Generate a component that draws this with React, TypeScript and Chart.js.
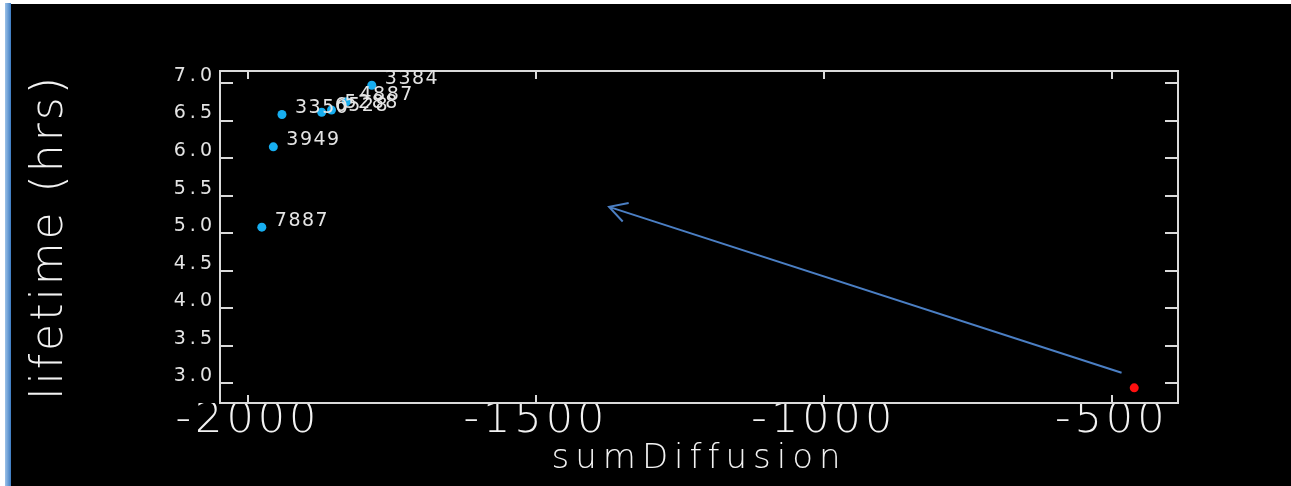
import React, { useEffect, useRef } from "react";
import { Chart, registerables } from "chart.js";

Chart.register(...registerables);

// ---- data ----
const sampleIds = ["3384", "4887", "5288", "6528", "3350", "3949", "7887"];
const sumDiffusion = [-1785, -1829, -1855, -1872, -1941, -1956, -1976];
const lifetimeHrs = [6.97, 6.75, 6.64, 6.61, 6.58, 6.15, 5.08];
const refSumDiffusion = [-461];
const refLifetime = [2.94];
const arrowFrom = [-483, 3.14];
const arrowTo = [-1373, 5.35];
const xRange = [-2048.6, -385];
const yRange = [2.738, 7.16];
const xTickValues = [-2000, -1500, -1000, -500];
const yTickValues = [3.0, 3.5, 4.0, 4.5, 5.0, 5.5, 6.0, 6.5, 7.0];
const xTitle = "sumDiffusion";
const yTitle = "lifetime (hrs)";

const FAMILY = "'DejaVu Sans', 'Liberation Sans', sans-serif";
const TEXT = "#f2f2f2";
const SMALL_TEXT = "#e4e4e4";
const FRAME = "#dadada";

const spacingPlugin = {
  id: "spacing",
  beforeDraw(chart: any) {
    const wrap = (scale: any, name: string, ls: string) => {
      if (!scale || scale["__w_" + name]) return;
      const orig = scale[name];
      scale[name] = function (...args: any[]) {
        const ctx = this.ctx;
        ctx.save();
        (ctx as any).letterSpacing = ls;
        orig.apply(this, args);
        ctx.restore();
      };
      scale["__w_" + name] = true;
    };
    wrap(chart.scales.x, "drawLabels", "4px");
    wrap(chart.scales.x, "drawTitle", "6px");
    wrap(chart.scales.y, "drawLabels", "4px");
    wrap(chart.scales.y, "drawTitle", "3px");
  },
};

const framePlugin = {
  id: "frame",
  beforeDatasetsDraw(chart: any) {
    const { ctx, chartArea: a, scales } = chart;
    ctx.save();
    ctx.strokeStyle = FRAME;
    ctx.lineWidth = 2;
    ctx.strokeRect(a.left, a.top, a.right - a.left, a.bottom - a.top);
    ctx.beginPath();
    scales.y.ticks.forEach((t: any) => {
      const py = Math.round(scales.y.getPixelForValue(t.value));
      ctx.moveTo(a.left, py);
      ctx.lineTo(a.left + 13, py);
      ctx.moveTo(a.right, py);
      ctx.lineTo(a.right - 13, py);
    });
    scales.x.ticks.forEach((t: any) => {
      const px = Math.round(scales.x.getPixelForValue(t.value));
      ctx.moveTo(px, a.bottom);
      ctx.lineTo(px, a.bottom - 8);
      ctx.moveTo(px, a.top);
      ctx.lineTo(px, a.top + 8);
    });
    ctx.stroke();
    ctx.restore();
  },
};

const annotPlugin = {
  id: "annot",
  afterDatasetsDraw(chart: any) {
    const { ctx, scales } = chart;
    const meta = chart.getDatasetMeta(0);
    ctx.save();
    ctx.font = `normal 19px ${FAMILY}`;
    (ctx as any).letterSpacing = "1.5px";
    ctx.fillStyle = SMALL_TEXT;
    ctx.textAlign = "left";
    ctx.textBaseline = "middle";
    meta.data.forEach((pt: any, i: number) => {
      ctx.fillText(sampleIds[i], pt.x + 13, pt.y - 6.5);
    });
    ctx.restore();

    const x1 = scales.x.getPixelForValue(arrowFrom[0]);
    const y1 = scales.y.getPixelForValue(arrowFrom[1]);
    const x2 = scales.x.getPixelForValue(arrowTo[0]);
    const y2 = scales.y.getPixelForValue(arrowTo[1]);
    const ang = Math.atan2(y1 - y2, x1 - x2);
    const len = 20;
    const spread = (29 * Math.PI) / 180;
    ctx.save();
    ctx.strokeStyle = "#4b7fc4";
    ctx.lineWidth = 2;
    ctx.beginPath();
    ctx.moveTo(x1, y1);
    ctx.lineTo(x2, y2);
    ctx.moveTo(x2 + len * Math.cos(ang - spread), y2 + len * Math.sin(ang - spread));
    ctx.lineTo(x2, y2);
    ctx.lineTo(x2 + len * Math.cos(ang + spread), y2 + len * Math.sin(ang + spread));
    ctx.stroke();
    ctx.restore();
  },
};

export default function App() {
  const ref = useRef<HTMLCanvasElement>(null);
  useEffect(() => {
    if (!ref.current) return;
    const chart = new Chart(ref.current, {
      type: "scatter",
      data: {
        datasets: [
          {
            data: sumDiffusion.map((x, i) => ({ x, y: lifetimeHrs[i] })),
            backgroundColor: "#17aef0",
            borderColor: "#17aef0",
            pointRadius: 4.5,
            pointHoverRadius: 4.5,
            borderWidth: 0,
          },
          {
            data: refSumDiffusion.map((x, i) => ({ x, y: refLifetime[i] })),
            backgroundColor: "#ff1010",
            borderColor: "#ff1010",
            pointRadius: 4.5,
            pointHoverRadius: 4.5,
            borderWidth: 0,
          },
        ],
      },
      options: {
        animation: false,
        responsive: false,
        maintainAspectRatio: false,
        events: [],
        layout: { padding: { left: 0, top: 71, right: 113, bottom: 0 } },
        plugins: { legend: { display: false }, tooltip: { enabled: false } },
        scales: {
          x: {
            type: "linear",
            min: xRange[0],
            max: xRange[1],
            grid: { display: false, drawTicks: false },
            border: { display: false },
            afterBuildTicks: (s: any) => {
              s.ticks = xTickValues.map((value) => ({ value }));
            },
            ticks: {
              padding: -8,
              color: TEXT,
              font: { family: FAMILY, size: 43, weight: "200" as any },
              maxRotation: 0,
              minRotation: 0,
              autoSkip: false,
              callback: (v: any) => String(v),
            },
            title: {
              display: true,
              text: xTitle,
              color: TEXT,
              font: { family: FAMILY, size: 34, weight: "200" as any },
              padding: { top: 0, bottom: 6 },
            },
            afterFit: (s: any) => {
              s.height = 83;
            },
          },
          y: {
            type: "linear",
            min: yRange[0],
            max: yRange[1],
            grid: { display: false, drawTicks: false },
            border: { display: false },
            afterBuildTicks: (s: any) => {
              s.ticks = yTickValues.map((value) => ({ value }));
            },
            ticks: {
              padding: 4,
              labelOffset: -7,
              autoSkip: false,
              color: SMALL_TEXT,
              font: { family: FAMILY, size: 19, weight: "normal" as any },
              callback: (v: any) => Number(v).toFixed(1),
            },
            title: {
              display: true,
              text: yTitle,
              color: TEXT,
              font: { family: FAMILY, size: 44, weight: "200" as any },
              padding: { top: 24, bottom: 0 },
            },
            afterFit: (s: any) => {
              s.width = 220;
            },
          },
        },
      },
      plugins: [spacingPlugin, framePlugin, annotPlugin],
    });
    return () => chart.destroy();
  }, []);

  return (
    <div style={{ position: "fixed", left: 0, top: 0, width: 1291, height: 486, background: "#ffffff", overflow: "hidden" }}>
      <div style={{ position: "absolute", left: 11, top: 4, right: 0, bottom: 0, background: "#000000" }} />
      <div
        style={{
          position: "absolute",
          left: 5,
          top: 3,
          width: 6,
          bottom: 0,
          background: "linear-gradient(to right, #9cc2e8, #3c7bc2)",
        }}
      />
      <canvas ref={ref} width={1291} height={486} style={{ position: "absolute", left: 0, top: 0 }} />
    </div>
  );
}
